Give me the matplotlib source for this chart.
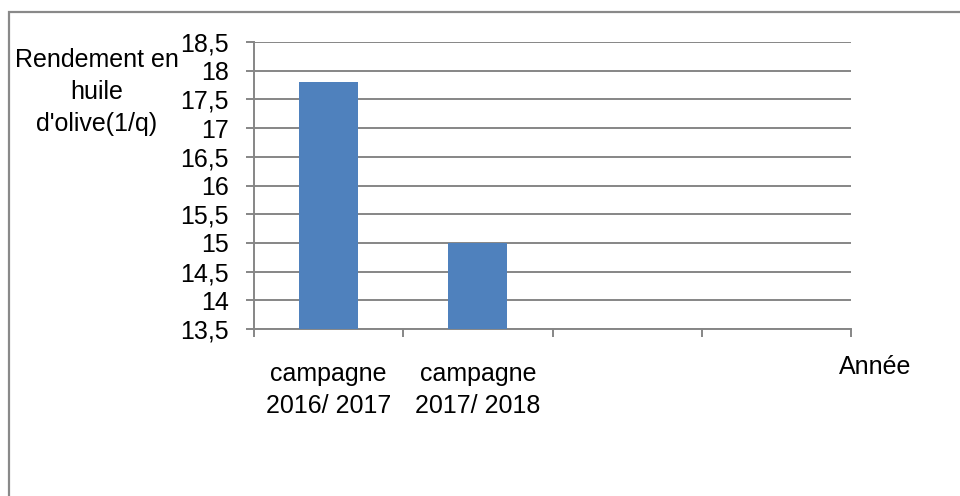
import numpy as np
import matplotlib
matplotlib.use("Agg")
import matplotlib.pyplot as plt
from matplotlib.patches import Rectangle
from matplotlib.ticker import FixedLocator, FuncFormatter

plt.rcParams['font.family'] = ['Liberation Sans', 'DejaVu Sans']

categories = ["campagne\n2016/ 2017", "campagne\n2017/ 2018", "", ""]
rendement = [17.8, 15.0]
y_ticks = [13.5, 14, 14.5, 15, 15.5, 16, 16.5, 17, 17.5, 18, 18.5]
y_title = "Rendement en\nhuile\nd'olive(1/q)"
x_title = "Année"

BAR = "#4F81BD"
GRID = "#868686"
FS = 18

fig = plt.figure(figsize=(9.6, 4.96), dpi=100)
ax = fig.add_axes([254 / 960, 1 - 329 / 496, 597 / 960, 287 / 496])

n = len(categories)
centers = np.arange(n) + 0.5
ax.bar(centers[:len(rendement)], [v - y_ticks[0] for v in rendement],
       bottom=y_ticks[0], width=0.395, color=BAR, zorder=3)

ax.set_xlim(0, n)
ax.set_ylim(y_ticks[0], y_ticks[-1])

# y axis: gridlines and comma decimal labels
ax.yaxis.set_major_locator(FixedLocator(y_ticks))
ax.yaxis.set_major_formatter(FuncFormatter(lambda v, p: f"{v:g}".replace(".", ",")))
ax.grid(axis="y", color=GRID, linewidth=1.4, zorder=0)
ax.tick_params(axis="y", length=6, width=1.4, color=GRID, pad=12, labelsize=FS)

# x axis: boundary ticks, category labels centred between them
ax.xaxis.set_major_locator(FixedLocator(np.arange(n + 1)))
ax.xaxis.set_minor_locator(FixedLocator(centers))
ax.set_xticklabels([""] * (n + 1))
ax.set_xticklabels(categories, minor=True)
ax.tick_params(axis="x", which="major", length=6, width=1.4, color=GRID)
ax.tick_params(axis="x", which="minor", length=0, pad=24, labelsize=FS)
for lbl in ax.get_xticklabels(minor=True):
    lbl.set_linespacing(1.38)

for side in ("top", "right"):
    ax.spines[side].set_visible(False)
for side in ("left", "bottom"):
    ax.spines[side].set_color(GRID)
    ax.spines[side].set_linewidth(1.4)

fig.text(97 / 960, 1 - 92 / 496, y_title, ha="center", va="center",
         fontsize=FS, linespacing=1.4)
fig.text(875 / 960, 1 - 367 / 496, x_title, ha="center", va="center", fontsize=FS)

# chart frame
fig.add_artist(Rectangle((9 / 960, -0.2), 1.2, 1 - 12 / 496 + 0.2,
                         transform=fig.transFigure, fill=False,
                         edgecolor="#898989", linewidth=1.6))

fig.savefig("out.png", dpi=100)
